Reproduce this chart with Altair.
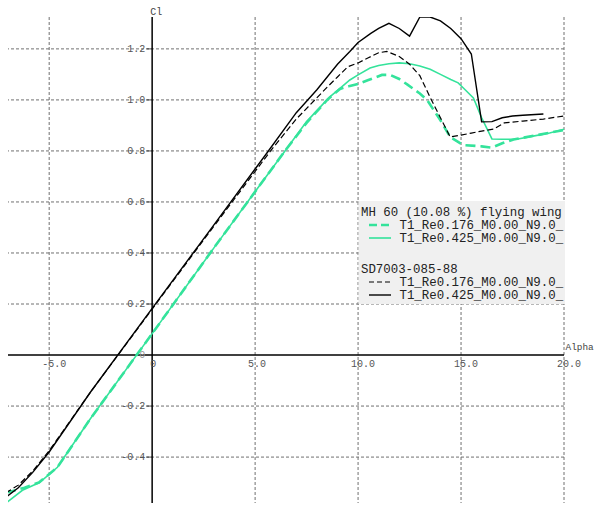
import altair as alt
import pandas as pd

# ---------------- data ----------------
sd_hi_alpha = [-7.1, -6.5, -5.8, -5.0, -3.0, 0.0, 3.0, 5.6, 7.0, 8.0, 9.0, 9.6, 10.0, 10.6,
               11.0, 11.5, 12.0, 12.5, 13.0, 13.5, 14.0, 14.5, 15.0, 15.5, 16.0, 16.5, 17.0,
               17.5, 18.0, 19.0]
sd_hi_cl = [-0.557, -0.52, -0.46, -0.38, -0.146, 0.183, 0.51, 0.795, 0.95, 1.04, 1.14, 1.19,
            1.225, 1.26, 1.28, 1.30, 1.28, 1.25, 1.325, 1.325, 1.31, 1.28, 1.24, 1.18, 0.914,
            0.915, 0.93, 0.937, 0.94, 0.945]

sd_lo_alpha = [-7.1, -6.5, -5.8, -5.0, -3.0, 0.0, 3.0, 5.75, 7.0, 7.9, 8.5, 9.0, 9.5, 10.0,
               10.5, 11.0, 11.4, 12.0, 12.5, 13.0, 13.5, 14.0, 14.47, 15.0, 15.5, 16.0, 16.6,
               17.1, 18.0, 19.0, 20.0]
sd_lo_cl = [-0.54, -0.51, -0.455, -0.375, -0.146, 0.18, 0.505, 0.80, 0.925, 1.0, 1.05, 1.09,
            1.13, 1.145, 1.165, 1.185, 1.19, 1.17, 1.14, 1.095, 1.01, 0.93, 0.855, 0.862, 0.87,
            0.878, 0.886, 0.91, 0.917, 0.925, 0.937]

mh_lo_alpha = [-7.1, -6.2, -5.5, -4.6, -3.0, 0.0, 3.0, 6.45, 7.5, 8.5, 9.12, 9.6, 10.0, 10.5,
               11.16, 11.55, 12.0, 12.4, 13.0, 13.35, 14.0, 14.47, 15.1, 16.0, 16.5, 17.0,
               17.55, 18.7, 20.0]
mh_lo_cl = [-0.54, -0.52, -0.5, -0.44, -0.25, 0.084, 0.42, 0.80, 0.91, 1.0, 1.043, 1.055,
            1.063, 1.078, 1.098, 1.098, 1.082, 1.06, 1.025, 1.0, 0.92, 0.855, 0.823, 0.818,
            0.813, 0.83, 0.845, 0.862, 0.882]

mh_hi_alpha = [-7.1, -6.3, -5.47, -4.6, -3.0, 0.0, 3.0, 6.45, 7.5, 8.6, 9.12, 9.6, 10.0,
               10.58, 11.0, 11.5, 12.0, 12.5, 13.0, 13.5, 14.0, 14.5, 14.86, 15.2, 15.6, 16.0,
               16.5, 17.0, 17.7, 18.5, 19.3, 20.0]
mh_hi_cl = [-0.58, -0.53, -0.50, -0.44, -0.25, 0.084, 0.42, 0.80, 0.915, 1.01, 1.045, 1.078,
            1.098, 1.125, 1.135, 1.142, 1.145, 1.142, 1.133, 1.12, 1.10, 1.08, 1.067, 1.04,
            1.008, 0.93, 0.847, 0.846, 0.846, 0.858, 0.87, 0.885]

x_grid = [-5.0, 5.0, 10.0, 15.0, 20.0]
y_grid = [-0.4, -0.2, 0.2, 0.4, 0.6, 0.8, 1.0, 1.2]
x_tick_labels = ["-5.0", "5.0", "10.0", "15.0", "20.0"]
y_tick_labels = ["-0.4", "-0.2", "0.2", "0.4", "0.6", "0.8", "1.0", "1.2"]

legend_groups = ["MH 60 (10.08 %) flying wing", "SD7003-085-88"]
legend_entries = ["T1_Re0.176_M0.00_N9.0_", "T1_Re0.425_M0.00_N9.0_"]

# ---------------- styling ----------------
GREEN = "#34e39b"
FONT = "Liberation Mono"
GRID = "#707070"
X_DOM = [-7.0, 20.0]
Y_DOM = [-0.58, 1.325]
W, H = 556, 486

xs = alt.Scale(domain=X_DOM, nice=False, zero=False)
ys = alt.Scale(domain=Y_DOM, nice=False, zero=False)


def series(a, c):
    return pd.DataFrame({"alpha": a, "cl": c, "i": range(len(a))})


def line(df, color, width, dash=None):
    kw = dict(color=color, strokeWidth=width, clip=True)
    if dash:
        kw["strokeDash"] = dash
    return alt.Chart(df).mark_line(**kw).encode(
        x=alt.X("alpha:Q", scale=xs, axis=None),
        y=alt.Y("cl:Q", scale=ys, axis=None),
        order="i:Q",
    )


layers = []

# grid
layers.append(alt.Chart(pd.DataFrame({"g": x_grid})).mark_rule(
    color=GRID, strokeDash=[3, 2], strokeWidth=1).encode(
    x=alt.X("g:Q", scale=xs, axis=None)))
layers.append(alt.Chart(pd.DataFrame({"g": y_grid})).mark_rule(
    color=GRID, strokeDash=[3, 2], strokeWidth=1).encode(
    y=alt.Y("g:Q", scale=ys, axis=None)))

# axis lines through origin
layers.append(alt.Chart(pd.DataFrame({"g": [0.0]})).mark_rule(
    color="black", strokeWidth=1.5).encode(x=alt.X("g:Q", scale=xs, axis=None)))
layers.append(alt.Chart(pd.DataFrame({"g": [0.0]})).mark_rule(
    color="black", strokeWidth=1.5).encode(y=alt.Y("g:Q", scale=ys, axis=None)))

# y ticks
layers.append(alt.Chart(pd.DataFrame({"v": y_grid, "z": [0.0] * len(y_grid)})).mark_tick(
    color="black", orient="horizontal", size=5, thickness=1, xOffset=-3).encode(
    x=alt.X("z:Q", scale=xs, axis=None), y=alt.Y("v:Q", scale=ys, axis=None)))

# tick labels
layers.append(alt.Chart(pd.DataFrame({"v": x_grid, "t": x_tick_labels, "z": [0.0] * 5})).mark_text(
    font=FONT, fontSize=10, color="#555555", align="left", baseline="middle", dx=-7, dy=9).encode(
    x=alt.X("v:Q", scale=xs, axis=None), y=alt.Y("z:Q", scale=ys, axis=None), text="t:N"))
layers.append(alt.Chart(pd.DataFrame({"v": y_grid, "t": y_tick_labels, "z": [0.0] * 8})).mark_text(
    font=FONT, fontSize=10, color="#555555", align="right", baseline="middle", dx=-7).encode(
    x=alt.X("z:Q", scale=xs, axis=None), y=alt.Y("v:Q", scale=ys, axis=None), text="t:N"))
layers.append(alt.Chart(pd.DataFrame({"v": [0.0], "t": ["0"]})).mark_text(
    font=FONT, fontSize=10, color="#555555", align="center", baseline="middle", dy=9, dx=1).encode(
    x=alt.X("v:Q", scale=xs, axis=None), y=alt.Y("v:Q", scale=ys, axis=None), text="t:N"))
layers.append(alt.Chart(pd.DataFrame({"v": [0.0], "t": ["0"]})).mark_text(
    font=FONT, fontSize=10, color="#999999", align="right", baseline="middle", dx=-7).encode(
    x=alt.X("v:Q", scale=xs, axis=None), y=alt.Y("v:Q", scale=ys, axis=None), text="t:N"))

# axis titles
layers.append(alt.Chart(pd.DataFrame({"x": [0.0], "y": [Y_DOM[1]], "t": ["Cl"]})).mark_text(
    font=FONT, fontSize=10, color="#444444", align="left", baseline="middle", dx=-2, dy=-5).encode(
    x=alt.X("x:Q", scale=xs, axis=None), y=alt.Y("y:Q", scale=ys, axis=None), text="t:N"))
layers.append(alt.Chart(pd.DataFrame({"x": [X_DOM[1]], "y": [0.0], "t": ["Alpha"]})).mark_text(
    font=FONT, fontSize=9.4, color="#444444", align="left", baseline="middle", dx=1.5, dy=-8).encode(
    x=alt.X("x:Q", scale=xs, axis=None), y=alt.Y("y:Q", scale=ys, axis=None), text="t:N"))

# curves
layers.append(line(series(mh_hi_alpha, mh_hi_cl), GREEN, 1.6))
layers.append(line(series(mh_lo_alpha, mh_lo_cl), GREEN, 2.6, [10, 5]))
layers.append(line(series(sd_lo_alpha, sd_lo_cl), "black", 1.2, [6, 3]))
layers.append(line(series(sd_hi_alpha, sd_hi_cl), "black", 1.4))

# legend box (pixel layout inside the plot area)
OX, OY = 8, 17
layers.append(alt.Chart(pd.DataFrame({"d": [0]})).mark_rect(color="#f0f0f0").encode(
    x=alt.value(358.5 - OX), x2=alt.value(565 - OX), y=alt.value(201 - OY), y2=alt.value(304 - OY)))

rows = [(legend_groups[0], None, 212),
        (legend_entries[0], (GREEN, 2.6, [8, 4]), 225),
        (legend_entries[1], (GREEN, 1.6, None), 238),
        (legend_groups[1], None, 269),
        (legend_entries[0], ("black", 1.2, [5, 3]), 282),
        (legend_entries[1], ("black", 1.4, None), 295)]
for txt, sym, py in rows:
    tx = 361 if sym is None else 399.5
    layers.append(alt.Chart(pd.DataFrame({"t": [txt]})).mark_text(
        font=FONT, fontSize=12.4, color="#222222", align="left", baseline="middle").encode(
        x=alt.value(tx - OX), y=alt.value(py - OY), text="t:N"))
    if sym is not None:
        c, w, d = sym
        kw = dict(color=c, strokeWidth=w)
        if d:
            kw["strokeDash"] = d
        layers.append(alt.Chart(pd.DataFrame({"d": [0]})).mark_rule(**kw).encode(
            x=alt.value(369 - OX), x2=alt.value(391 - OX), y=alt.value(py - OY)))

chart = alt.layer(*layers).properties(
    width=W, height=H,
    padding={"left": OX, "top": OY, "right": 594 - OX - W, "bottom": 0},
    autosize=alt.AutoSizeParams(type="none"),
).configure_view(stroke=None)

chart.save("out.html", embed_options={"renderer": "svg", "actions": False})
